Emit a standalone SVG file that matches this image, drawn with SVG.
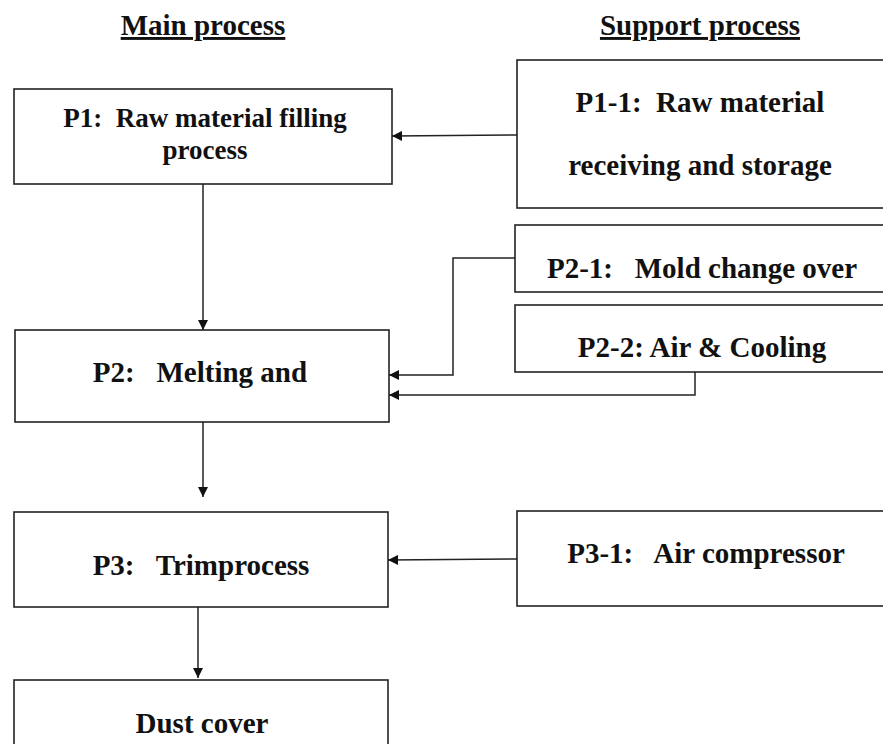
<svg xmlns="http://www.w3.org/2000/svg" width="883" height="744" viewBox="0 0 883 744">
<style>
.box{fill:#fff;stroke:#222;stroke-width:1.6}
.t{font-family:"Liberation Serif","Times New Roman",serif;font-weight:bold;font-size:29px;fill:#111;text-anchor:middle;white-space:pre}
.s{font-size:27px}
.h{font-family:"Liberation Serif","Times New Roman",serif;font-weight:bold;font-size:29px;fill:#111;text-anchor:middle;text-decoration:underline}
.c{fill:none;stroke:#222;stroke-width:1.5}
</style>
<defs>
<marker id="ah" viewBox="0 0 10 10" refX="10" refY="5" markerWidth="10" markerHeight="10" markerUnits="userSpaceOnUse" orient="auto">
<path d="M0,0 L10,5 L0,10 z" fill="#111"/>
</marker>
</defs>
<rect width="883" height="744" fill="#fff"/>
<g id="titles">
<text class="h" x="203" y="35">Main process</text>
<text class="h" x="700" y="35">Support process</text>
</g>
<g id="P1"><rect class="box" x="14" y="89" width="378" height="95"/>
<text class="t s" x="205" y="127">P1:  Raw material filling</text>
<text class="t s" x="205" y="159">process</text></g>
<g id="P1-1"><rect class="box" x="517" y="60" width="380" height="148"/>
<text class="t" x="700" y="112">P1-1:  Raw material</text>
<text class="t" x="700" y="175">receiving and storage</text></g>
<g id="P2-1"><rect class="box" x="515" y="225" width="380" height="67"/>
<text class="t" x="702" y="278">P2-1:   Mold change over</text></g>
<g id="P2-2"><rect class="box" x="515" y="305" width="380" height="67"/>
<text class="t" x="702" y="357">P2-2: Air &amp; Cooling</text></g>
<g id="P2"><rect class="box" x="15" y="330" width="374" height="92"/>
<text class="t" x="200" y="382">P2:   Melting and</text></g>
<g id="P3"><rect class="box" x="14" y="512" width="374" height="95"/>
<text class="t" x="201" y="575">P3:   Trimprocess</text></g>
<g id="P3-1"><rect class="box" x="517" y="511" width="380" height="95"/>
<text class="t" x="706" y="563">P3-1:   Air compressor</text></g>
<g id="Dust"><rect class="box" x="14" y="680" width="374" height="80"/>
<text class="t" x="202" y="733">Dust cover</text></g>
<g id="connectors">
<path class="c" d="M517,135 L392,136" marker-end="url(#ah)"/>
<path class="c" d="M203,184 L203,330" marker-end="url(#ah)"/>
<path class="c" d="M515,258 L453,258 L453,375 L389,375" marker-end="url(#ah)"/>
<path class="c" d="M695,372 L695,395 L389,395" marker-end="url(#ah)"/>
<path class="c" d="M203,422 L203,497" marker-end="url(#ah)"/>
<path class="c" d="M517,559 L388,560" marker-end="url(#ah)"/>
<path class="c" d="M198,607 L198,678" marker-end="url(#ah)"/>
</g>
</svg>
